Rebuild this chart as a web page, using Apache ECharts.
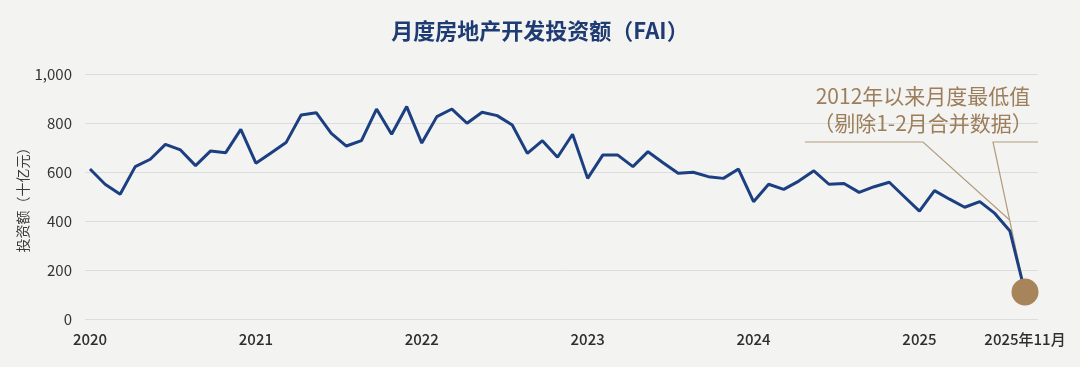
<!DOCTYPE html>
<html>
<head>
<meta charset="utf-8">
<script src="https://cdn.jsdelivr.net/npm/echarts@6/dist/echarts.min.js"></script>
<style>
html,body{margin:0;padding:0;background:#f3f3f1;}
#c{width:1080px;height:367px;}
</style>
</head>
<body>
<div id="c"></div>
<script>
// ---- data ----
const titleText = '月度房地产开发投资额（FAI）';
const yAxisName = '投资额（十亿元）';
const fai = [612, 550, 509, 622, 652, 713, 690, 626, 686, 679, 774,
             636, 678, 720, 833, 842, 758, 706, 728, 857, 754, 867,
             718, 826, 857, 799, 844, 830, 792, 676, 728, 660, 754,
             574, 669, 669, 622, 683, 638, 595, 599, 581, 574, 612,
             479, 550, 529, 563, 605, 550, 553, 517, 540, 558, 499,
             440, 524, 489, 456, 479, 431, 359, 110];
const tickIndex = [0, 11, 22, 33, 44, 55, 62];
const tickLabels = ['2020', '2021', '2022', '2023', '2024', '2025', '2025年11月'];
const yTicks = [0, 200, 400, 600, 800, 1000];
const noteLines = ['2012年以来月度最低值', '（剔除1-2月合并数据）'];

const categories = fai.map((_, i) => String(i));
const lastIdx = fai.length - 1;
const labelMap = {};
tickIndex.forEach((idx, k) => { labelMap[idx] = tickLabels[k]; });

const FONT = '"Noto Sans CJK SC", "Noto Sans", sans-serif';
const chart = echarts.init(document.getElementById('c'));
const option = {
  backgroundColor: '#f3f3f1',
  animation: false,
  title: {
    text: titleText, left: 'center', top: 15,
    textStyle: { fontFamily: FONT, fontSize: 22, fontWeight: 'bold', color: '#1f3b73' }
  },
  grid: [
    { left: 85, right: 42, top: 74, bottom: 48 },
    { left: 90, right: 55, top: 74, bottom: 48 }
  ],
  xAxis: [
    { type: 'value', gridIndex: 0, min: 0, max: 1, show: false },
    {
      type: 'category', gridIndex: 1, data: categories, boundaryGap: false,
      axisLine: { show: false }, axisTick: { show: false },
      axisLabel: {
        interval: (i) => labelMap[i] !== undefined,
        formatter: (v, i) => labelMap[i] || '',
        margin: 13, fontFamily: FONT, fontSize: 15, fontWeight: 500, color: '#2e2e2e'
      },
      splitLine: { show: false }
    }
  ],
  yAxis: [
    {
      type: 'value', gridIndex: 0, min: yTicks[0], max: yTicks[yTicks.length - 1], interval: 200,
      name: yAxisName, nameLocation: 'middle', nameRotate: 90, nameGap: 55, nameMoveOverlap: false,
      nameTextStyle: { fontFamily: FONT, fontSize: 14, color: '#3a3a3a' },
      axisLine: { show: false }, axisTick: { show: false },
      axisLabel: { margin: 13, fontFamily: FONT, fontSize: 15, color: '#333',
        formatter: (v) => v.toLocaleString('en-US') },
      splitLine: { lineStyle: { color: '#dcdcdc', width: 1 } }
    },
    {
      type: 'value', gridIndex: 1, min: yTicks[0], max: yTicks[yTicks.length - 1], interval: 200,
      show: false, splitLine: { show: false }
    }
  ],
  series: [
    {
      type: 'line', xAxisIndex: 1, yAxisIndex: 1, data: fai,
      showSymbol: false, symbol: 'none',
      lineStyle: { color: '#1b3f80', width: 3 }, z: 3
    },
    {
      type: 'scatter', xAxisIndex: 1, yAxisIndex: 1,
      data: [[categories[lastIdx], fai[lastIdx]]],
      symbol: 'circle', symbolSize: 27,
      itemStyle: { color: '#a8845a', opacity: 1 }, z: 5
    }
  ]
};
chart.setOption(option);

// callout annotation anchored to the last data point
const P = chart.convertToPixel({ xAxisIndex: 1, yAxisIndex: 1 }, [lastIdx, fai[lastIdx]]);
const lineY = 142;
const leaderStyle = { stroke: '#b39c80', lineWidth: 1.2, fill: null };
const joinY = 220;
const t2 = (joinY - lineY) / (P[1] - lineY);
const joinX = 993 + (P[0] - 993) * t2;
chart.setOption({
  graphic: [
    { type: 'polyline', z: 2, shape: { points: [[805, lineY], [923, lineY], [joinX, joinY]] }, style: leaderStyle, silent: true },
    { type: 'polyline', z: 2, shape: { points: [[1038, lineY], [993, lineY], [P[0], P[1]]] }, style: leaderStyle, silent: true },
    { type: 'text', x: 923, y: 96, z: 6,
      style: { text: noteLines[0], fill: '#9c7e5a', font: '21px ' + FONT, textAlign: 'center', textVerticalAlign: 'middle' } },
    { type: 'text', x: 923, y: 123, z: 6,
      style: { text: noteLines[1], fill: '#9c7e5a', font: '21px ' + FONT, textAlign: 'center', textVerticalAlign: 'middle' } }
  ]
});
</script>
</body>
</html>
